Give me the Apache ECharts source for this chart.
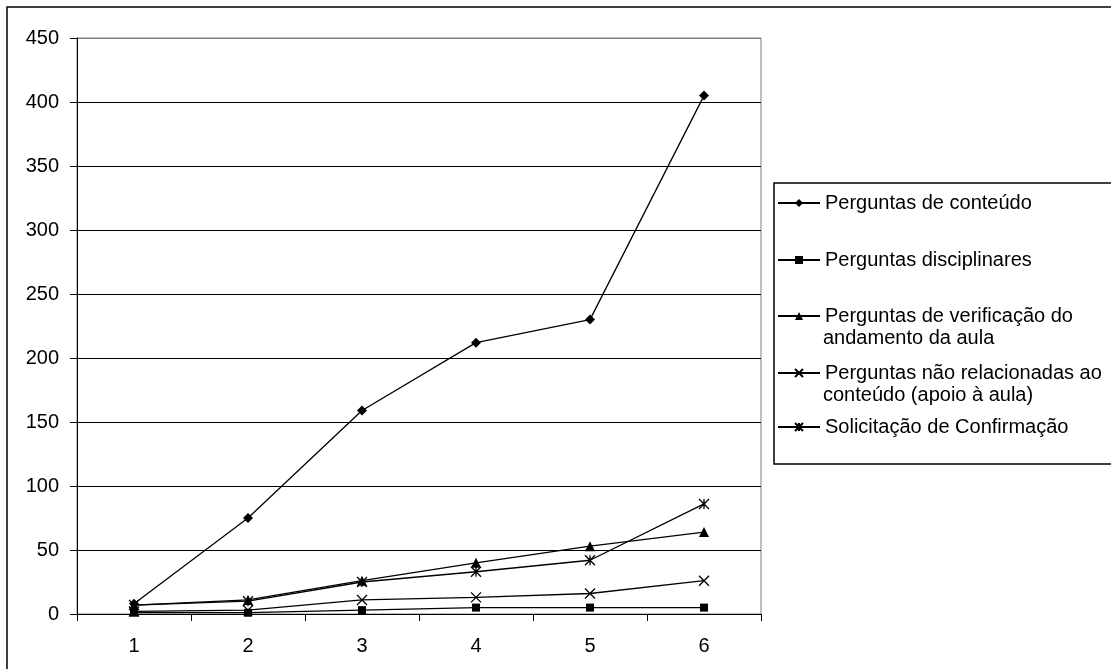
<!DOCTYPE html>
<html>
<head>
<meta charset="utf-8">
<script src="https://cdn.jsdelivr.net/npm/echarts@6/dist/echarts.min.js"></script>
<style>html,body{margin:0;padding:0;background:#fff}#c{width:1111px;height:669px}</style>
</head>
<body>
<div id="c"></div>
<script>
const categories = ['1', '2', '3', '4', '5', '6'];
const yTicks = [0, 50, 100, 150, 200, 250, 300, 350, 400, 450];
const seriesNames = [
  'Perguntas de conteúdo',
  'Perguntas disciplinares',
  'Perguntas de verificação do andamento da aula',
  'Perguntas não relacionadas ao conteúdo (apoio à aula)',
  'Solicitação de Confirmação'
];
const conteudo = [8, 75, 159, 212, 230, 405];
const disciplinares = [1, 1, 3, 5, 5, 5];
const verificacao = [7, 11, 26, 40, 53, 64];
const naoRelacionadas = [2, 3, 11, 13, 16, 26];
const confirmacao = [7, 10, 25, 33, 42, 86];

const FONT = '"Liberation Sans", Arial, sans-serif';
const FS = 20;
const xSym = 'path://M0,0L10,10M10,0L0,10';
const starSym = 'path://M0,0L10,10M10,0L0,10M5,0L5,10';

function mk(name, data, symbol, size, stroke) {
  return {
    name: name, type: 'line', data: data,
    symbol: symbol, symbolSize: size, symbolKeepAspect: true,
    showAllSymbol: true, animation: false, z: 3,
    lineStyle: {color: '#000', width: 1.3},
    itemStyle: stroke ? {color: 'rgba(0,0,0,0)', borderColor: '#000', borderWidth: 1.3}
                      : {color: '#000', borderColor: '#000', borderWidth: 0}
  };
}

const legendRows = [
  {name: seriesNames[0], first: 'Perguntas de conteúdo', second: null, cy: 203},
  {name: seriesNames[1], first: 'Perguntas disciplinares', second: null, cy: 260},
  {name: seriesNames[2], first: 'Perguntas de verificação do', second: 'andamento da aula', cy: 316},
  {name: seriesNames[3], first: 'Perguntas não relacionadas ao', second: 'conteúdo (apoio à aula)', cy: 373},
  {name: seriesNames[4], first: 'Solicitação de Confirmação', second: null, cy: 427}
];

const legends = legendRows.map(r => ({
  data: [r.name], left: 777, top: r.cy - 11, orient: 'vertical',
  itemWidth: 42, itemHeight: 10, itemGap: 4, padding: 0,
  formatter: () => r.first,
  textStyle: {fontFamily: FONT, fontSize: FS, color: '#000', lineHeight: 22},
  selectedMode: false
}));

const graphics = [
  {type: 'rect', shape: {x: 7, y: 7, width: 1200, height: 720}, style: {fill: 'none', stroke: '#000', lineWidth: 1.5}, silent: true},
  {type: 'rect', shape: {x: 774, y: 183, width: 400, height: 281}, style: {fill: '#fff', stroke: '#000', lineWidth: 1.5}, silent: true, z: -1}
];
legendRows.forEach(r => {
  if (r.second) graphics.push({type: 'text', left: 823, top: r.cy + 12,
    style: {text: r.second, fontFamily: FONT, fontSize: FS, fill: '#000'}, silent: true});
});

const chart = echarts.init(document.getElementById('c'), null, {renderer: 'canvas'});
chart.setOption({
  backgroundColor: '#fff',
  animation: false,
  grid: {left: 77, top: 38, right: 350, bottom: 55, show: true, borderColor: '#808080', borderWidth: 1, backgroundColor: 'transparent'},
  xAxis: {
    type: 'category', data: categories, boundaryGap: true,
    axisLine: {lineStyle: {color: '#000', width: 1}},
    axisTick: {show: true, length: 7, inside: false, lineStyle: {color: '#000'}},
    axisLabel: {fontFamily: FONT, fontSize: FS, color: '#000', margin: 22},
    splitLine: {show: false}
  },
  yAxis: {
    type: 'value', min: yTicks[0], max: yTicks[yTicks.length - 1], interval: yTicks[1] - yTicks[0],
    axisLine: {show: true, lineStyle: {color: '#000', width: 1}},
    axisTick: {show: true, length: 7, lineStyle: {color: '#000'}},
    axisLabel: {fontFamily: FONT, fontSize: FS, color: '#000', margin: 18,
      formatter: v => yTicks.includes(v) ? String(v) : ''},
    splitLine: {show: true, lineStyle: {color: ['#000','#000','#000','#000','#000','#000','#000','#000','#000','#808080'], width: 1}}
  },
  legend: legends,
  graphic: graphics,
  series: [
    mk(seriesNames[0], conteudo, 'diamond', 10, false),
    mk(seriesNames[1], disciplinares, 'rect', 8, false),
    mk(seriesNames[2], verificacao, 'triangle', 10, false),
    mk(seriesNames[3], naoRelacionadas, xSym, 10, true),
    mk(seriesNames[4], confirmacao, starSym, 10, true)
  ]
});
</script>
</body>
</html>
